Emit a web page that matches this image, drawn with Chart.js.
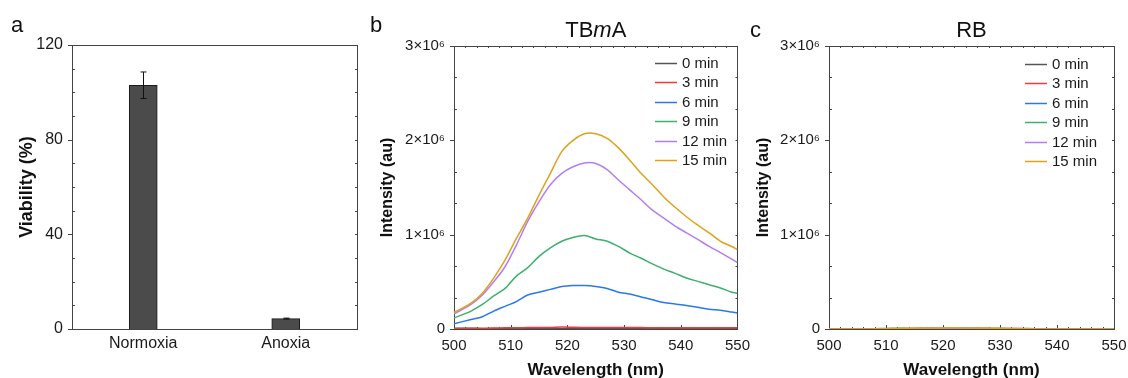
<!DOCTYPE html>
<html>
<head>
<meta charset="utf-8">
<script src="https://cdn.jsdelivr.net/npm/chart.js@4.4.0/dist/chart.umd.min.js"></script>
<style>
  body { margin: 0; background: #fff; }
  #wrap { position: relative; width: 1128px; height: 378px; overflow: hidden; }
  canvas { position: absolute; top: 0; }
</style>
</head>
<body>
<div id="wrap">
  <canvas id="panelA" width="368" height="378" style="left:0"></canvas>
  <canvas id="panelB" width="382" height="378" style="left:368px"></canvas>
  <canvas id="panelC" width="378" height="378" style="left:750px"></canvas>
</div>
<script>
// panel a - viability
const conditions = ['Normoxia', 'Anoxia'];
const viability = [103, 4.4];
const viabilityErr = [5.6, 0.2];

// panels b, c - emission spectra (intensity in units of 10^6)
const wavelengths = [500, 503, 505, 507, 509, 511, 513, 515, 517, 519, 521, 523, 525,
                     527, 529, 531, 533, 535, 537, 539, 541, 543, 545, 547, 549, 550];
const timeLabels = ['0 min', '3 min', '6 min', '9 min', '12 min', '15 min'];
const lineColors = ['#555555', '#f23a3a', '#2a78ee', '#3cb06c', '#b57ef0', '#dea21c'];

const tbma0min  = [0.008, 0.008, 0.006, 0.004, 0.003, 0.003, 0.003, 0.003, 0.003, 0.003, 0.003, 0.003, 0.003,
                   0.003, 0.003, 0.003, 0.003, 0.003, 0.003, 0.003, 0.003, 0.003, 0.003, 0.002, 0.002, 0.002];
const tbma3min  = [0.003, 0.005, 0.006, 0.010, 0.012, 0.014, 0.015, 0.016, 0.016, 0.022, 0.018, 0.017, 0.017,
                   0.016, 0.016, 0.015, 0.015, 0.014, 0.014, 0.014, 0.013, 0.013, 0.012, 0.012, 0.012, 0.012];
const tbma6min  = [0.056, 0.10, 0.13, 0.19, 0.24, 0.29, 0.36, 0.39, 0.42, 0.45, 0.46, 0.46, 0.45,
                   0.43, 0.39, 0.37, 0.34, 0.31, 0.28, 0.265, 0.25, 0.23, 0.21, 0.20, 0.18, 0.17];
const tbma9min  = [0.116, 0.19, 0.26, 0.35, 0.43, 0.56, 0.65, 0.77, 0.86, 0.93, 0.97, 0.99, 0.955,
                   0.93, 0.875, 0.805, 0.75, 0.69, 0.635, 0.59, 0.54, 0.505, 0.47, 0.435, 0.39, 0.38];
const tbma12min = [0.16, 0.26, 0.36, 0.50, 0.66, 0.89, 1.14, 1.35, 1.53, 1.65, 1.72, 1.76, 1.755,
                   1.69, 1.58, 1.475, 1.37, 1.26, 1.175, 1.09, 1.02, 0.95, 0.875, 0.81, 0.74, 0.705];
const tbma15min = [0.176, 0.275, 0.38, 0.54, 0.73, 0.96, 1.175, 1.42, 1.65, 1.88, 2.00, 2.07, 2.07,
                   2.02, 1.92, 1.79, 1.65, 1.53, 1.40, 1.29, 1.19, 1.10, 1.02, 0.93, 0.875, 0.84];

const rb0min  = [0, 0, 0, 0.001, 0.003, 0.004, 0.004, 0.003, 0.003, 0.003, 0.003, 0.003, 0.003,
                 0.003, 0.003, 0.003, 0.003, 0.003, 0.002, 0, 0, 0, 0, 0, 0, 0];
const rb3min  = [0, 0, 0, 0, 0.001, 0.002, 0.003, 0.004, 0.004, 0.004, 0.004, 0.004, 0.005,
                 0.005, 0.005, 0.005, 0.005, 0.004, 0.001, 0, 0, 0, 0, 0, 0, 0];
const rb6min  = [0, 0, 0, 0, 0.001, 0.002, 0.003, 0.003, 0.004, 0.004, 0.004, 0.004, 0.004,
                 0.003, 0.003, 0.002, 0.001, 0, 0, 0, 0, 0, 0, 0, 0, 0];
const rb9min  = [0, 0, 0, 0.002, 0.004, 0.005, 0.005, 0.005, 0.005, 0.005, 0.005, 0.005, 0.005,
                 0.005, 0.005, 0.004, 0.002, 0.001, 0, 0, 0, 0, 0, 0, 0, 0];
const rb12min = [0, 0, 0, 0, 0.001, 0.002, 0.004, 0.006, 0.008, 0.009, 0.009, 0.008, 0.007,
                 0.005, 0.003, 0.002, 0.001, 0, 0, 0, 0, 0, 0, 0, 0, 0];
const rb15min = [0, 0, 0, 0.001, 0.002, 0.004, 0.007, 0.009, 0.010, 0.011, 0.012, 0.012, 0.011,
                 0.010, 0.009, 0.006, 0.004, 0.002, 0.001, 0, 0, 0, 0, 0, 0, 0];

const FONT = '"Liberation Sans", Arial, sans-serif';
const INK = '#1a1a1a';

// frame + origin-style ticks go under the data, letters/title/legend/error bars on top
function makeDeco(cfg) {
  return {
    id: 'deco',
    beforeDatasetsDraw(chart) {
      const ctx = chart.ctx;
      const a = chart.chartArea;
      const xs = chart.scales.x, ys = chart.scales.y;
      ctx.save();
      ctx.strokeStyle = '#444';
      ctx.lineWidth = 1;
      ctx.strokeRect(Math.round(a.left) + 0.5, Math.round(a.top) + 0.5,
                     Math.round(a.right - a.left), Math.round(a.bottom - a.top));

      ctx.beginPath();
      for (let v = ys.min; v <= ys.max + 1e-9; v += cfg.yMinor) {
        const py = Math.round(ys.getPixelForValue(v)) + 0.5;
        const major = Math.abs(v / cfg.yMajor - Math.round(v / cfg.yMajor)) < 1e-6;
        if (major) { ctx.moveTo(a.left - 4, py); ctx.lineTo(a.left, py); }
        else { ctx.moveTo(a.left, py); ctx.lineTo(a.left + 3, py); }
        ctx.moveTo(a.right, py); ctx.lineTo(a.right - 2, py);
      }
      if (cfg.xMinor) {
        for (let v = xs.min; v <= xs.max + 1e-9; v += cfg.xMinor) {
          const px = Math.round(xs.getPixelForValue(v)) + 0.5;
          const major = Math.abs(v / cfg.xMajor - Math.round(v / cfg.xMajor)) < 1e-6;
          ctx.moveTo(px, a.bottom); ctx.lineTo(px, a.bottom - (major ? 4 : 2));
          ctx.moveTo(px, a.top); ctx.lineTo(px, a.top + 2);
        }
      }
      ctx.stroke();
      ctx.restore();
    },
    afterDatasetsDraw(chart) {
      const ctx = chart.ctx;
      const a = chart.chartArea;
      const xs = chart.scales.x, ys = chart.scales.y;
      ctx.save();

      if (cfg.errors) {
        ctx.strokeStyle = '#111';
        ctx.lineWidth = 1;
        chart.data.datasets[0].data.forEach((v, i) => {
          const px = Math.round(xs.getPixelForValue(i)) + 0.5;
          const hi = ys.getPixelForValue(v + cfg.errors[i]);
          const lo = ys.getPixelForValue(v - cfg.errors[i]);
          ctx.beginPath();
          ctx.moveTo(px, hi); ctx.lineTo(px, lo);
          ctx.moveTo(px - 3, hi); ctx.lineTo(px + 3, hi);
          ctx.moveTo(px - 3, lo); ctx.lineTo(px + 3, lo);
          ctx.stroke();
        });
      }

      ctx.fillStyle = '#111';
      ctx.font = '22px ' + FONT;
      ctx.textAlign = 'left';
      ctx.textBaseline = 'alphabetic';
      ctx.fillText(cfg.letter, cfg.letterX, cfg.letterY);

      if (cfg.title) {
        let w = 0;
        cfg.title.forEach(p => {
          ctx.font = (p.italic ? 'italic ' : '') + '22px ' + FONT;
          w += ctx.measureText(p.text).width;
        });
        let x = (a.left + a.right) / 2 - w / 2;
        ctx.textBaseline = 'middle';
        cfg.title.forEach(p => {
          ctx.font = (p.italic ? 'italic ' : '') + '22px ' + FONT;
          ctx.fillText(p.text, x, 31);
          x += ctx.measureText(p.text).width;
        });
      }

      if (cfg.legend) {
        ctx.font = '15px ' + FONT;
        ctx.textBaseline = 'middle';
        chart.data.datasets.forEach((ds, i) => {
          const y = Math.round(cfg.legend.y + i * 19.4) + 0.5;
          ctx.strokeStyle = ds.borderColor;
          ctx.lineWidth = 1.5;
          ctx.beginPath();
          ctx.moveTo(cfg.legend.x, y); ctx.lineTo(cfg.legend.x + 22, y);
          ctx.stroke();
          ctx.fillStyle = INK;
          ctx.fillText(ds.label, cfg.legend.x + 27, y);
        });
      }
      ctx.restore();
    }
  };
}

function fixBox(w, h) {
  return function (s) { if (w !== null) s.width = w; if (h !== null) s.height = h; };
}

// ----- panel a -----
new Chart(document.getElementById('panelA'), {
  type: 'bar',
  data: {
    labels: conditions,
    datasets: [{
      label: 'Viability',
      data: viability,
      backgroundColor: '#4b4b4b',
      borderColor: '#1a1a1a',
      borderWidth: 1,
      barThickness: 28
    }]
  },
  options: {
    responsive: false,
    animation: false,
    layout: { padding: { top: 45, right: 11, left: 0, bottom: 0 } },
    plugins: { legend: { display: false }, tooltip: { enabled: false } },
    scales: {
      x: {
        grid: { display: false },
        border: { display: false },
        ticks: { color: INK, font: { family: FONT, size: 16 }, padding: -3 },
        afterFit: fixBox(null, 49)
      },
      y: {
        min: 0, max: 120,
        grid: { display: false },
        border: { display: false },
        ticks: { stepSize: 40, color: INK, font: { family: FONT, size: 16 }, padding: 1 },
        title: { display: true, text: 'Viability (%)', color: '#111',
                 font: { family: FONT, size: 18, weight: 'bold' }, padding: { top: 16, bottom: 0 } },
        afterFit: fixBox(72, null)
      }
    }
  },
  plugins: [makeDeco({ errors: viabilityErr, yMajor: 40, yMinor: 10, letter: 'a', letterX: 11, letterY: 32 })]
});

// ----- panels b and c -----
function spectrumChart(id, series, title, letter, letterX, letterY, legend, leftW, rightPad, titlePad) {
  return new Chart(document.getElementById(id), {
    type: 'line',
    data: {
      datasets: series.map((vals, i) => ({
        label: timeLabels[i],
        data: vals.map((v, j) => ({ x: wavelengths[j], y: v })),
        borderColor: lineColors[i],
        borderWidth: 1.5,
        pointRadius: 0,
        tension: 0.3,
        order: series.length - i   // later curves sit on top, like the original plot
      }))
    },
    options: {
      responsive: false,
      animation: false,
      layout: { padding: { top: 46, right: rightPad, left: 0, bottom: 0 } },
      plugins: { legend: { display: false }, tooltip: { enabled: false } },
      scales: {
        x: {
          type: 'linear', min: 500, max: 550,
          grid: { display: false },
          border: { display: false },
          ticks: { stepSize: 10, color: INK, font: { family: FONT, size: 15 }, padding: 0 },
          title: { display: true, text: 'Wavelength (nm)', color: '#111',
                   font: { family: FONT, size: 17, weight: 'bold' }, padding: { top: 0, bottom: -3 } },
          afterFit: fixBox(null, 49)
        },
        y: {
          min: 0, max: 3,
          grid: { display: false },
          border: { display: false },
          ticks: {
            stepSize: 1, color: INK, font: { family: FONT, size: 15 }, padding: 1,
            callback: v => v === 0 ? '0' : v + '×10⁶'
          },
          title: { display: true, text: 'Intensity (au)', color: '#111',
                   font: { family: FONT, size: 16, weight: 'bold' }, padding: { top: titlePad, bottom: 0 } },
          afterFit: fixBox(leftW, null)
        }
      }
    },
    plugins: [makeDeco({ yMajor: 1, yMinor: 1 / 3, xMajor: 10, xMinor: 2, letter, letterX, letterY, title, legend })]
  });
}

spectrumChart('panelB', [tbma0min, tbma3min, tbma6min, tbma9min, tbma12min, tbma15min],
  [{ text: 'TB' }, { text: 'm', italic: true }, { text: 'A' }], 'b', 2, 32, { x: 287, y: 63 }, 86, 11, 10);
spectrumChart('panelC', [rb0min, rb3min, rb6min, rb9min, rb12min, rb15min],
  [{ text: 'RB' }], 'c', 0, 37, { x: 275, y: 64 }, 79, 14, 4);
</script>
</body>
</html>
